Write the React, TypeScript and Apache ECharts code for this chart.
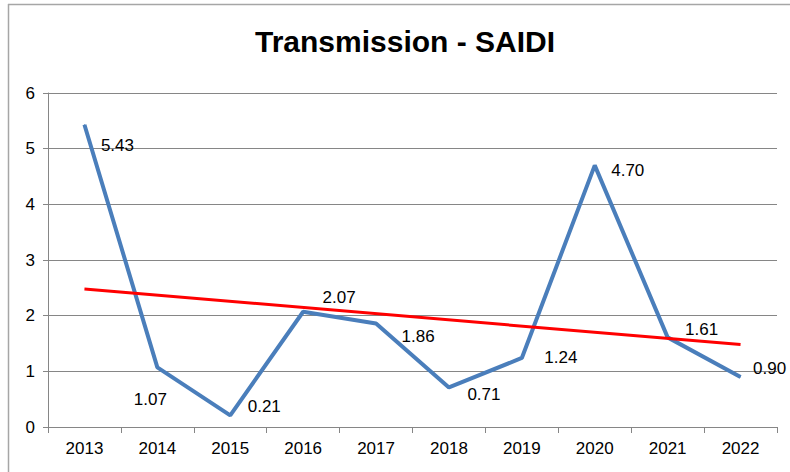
import React, { useEffect, useRef } from "react";
import * as echarts from "echarts";

const years = ["2013", "2014", "2015", "2016", "2017", "2018", "2019", "2020", "2021", "2022"];
const saidi = [5.43, 1.07, 0.21, 2.07, 1.86, 0.71, 1.24, 4.7, 1.61, 0.9];
// linear trendline endpoints (2013, 2022)
const trendYears = ["2013", "2022"];
const trendValues = [2.48, 1.48];
// label offsets (px) relative to each point, layout only
const labelOffsets = [
  [33, 21], [-7, 32], [34, -9], [36, -14], [42, 13],
  [35, 7], [39, 0], [33, 5], [34, -8], [29, -8],
];

const FONT = "'Liberation Sans', Arial, sans-serif";

export default function App() {
  const ref = useRef<HTMLDivElement>(null);
  useEffect(() => {
    if (!ref.current) return;
    const chart = echarts.init(ref.current, undefined, { renderer: "svg" });
    chart.setOption({
      animation: false,
      backgroundColor: "#ffffff",
      textStyle: { fontFamily: FONT },
      title: {
        text: "Transmission - SAIDI",
        left: 250,
        top: 21,
        textStyle: { fontFamily: FONT, fontSize: 30, fontWeight: "bold", color: "#000" },
      },
      graphic: [
        { type: "line", shape: { x1: 8.5, y1: 4, x2: 8.5, y2: 472 }, style: { stroke: "#a6a6a6", lineWidth: 1.5 } },
        { type: "line", shape: { x1: 8, y1: 4.5, x2: 790, y2: 4.5 }, style: { stroke: "#a6a6a6", lineWidth: 1.5 } },
      ],
      grid: { left: 48, right: 13, top: 93, bottom: 45, containLabel: false },
      xAxis: {
        type: "category",
        data: years,
        boundaryGap: true,
        axisLine: { lineStyle: { color: "#868686", width: 1 } },
        axisTick: { show: true, length: 6, alignWithLabel: false, lineStyle: { color: "#868686" } },
        axisLabel: { fontFamily: FONT, fontSize: 17, color: "#000", margin: 13 },
      },
      yAxis: {
        type: "value",
        min: 0,
        max: 6,
        interval: 1,
        axisLine: { show: true, lineStyle: { color: "#868686", width: 1 } },
        axisTick: { show: true, length: 5, lineStyle: { color: "#868686" } },
        axisLabel: { fontFamily: FONT, fontSize: 17, color: "#000", margin: 13 },
        splitLine: { lineStyle: { color: "#868686", width: 1 } },
      },
      series: [
        {
          type: "line",
          data: saidi.map((v, i) => ({
            value: v,
            label: { offset: labelOffsets[i] },
          })),
          symbol: "circle",
          symbolSize: 1,
          showSymbol: true,
          itemStyle: { color: "#4A7EBB" },
          lineStyle: { color: "#4A7EBB", width: 4 },
          label: {
            show: true,
            position: "inside",
            fontFamily: FONT,
            fontSize: 17,
            color: "#000",
            formatter: (p: any) => Number(p.value).toFixed(2),
          },
          z: 2,
        },
        {
          type: "line",
          data: trendYears.map((y, i) => [y, trendValues[i]]),
          symbol: "none",
          lineStyle: { color: "#FF0000", width: 3 },
          z: 3,
        },
      ],
    });
    return () => chart.dispose();
  }, []);
  return (
    <div
      ref={ref}
      style={{ position: "fixed", left: 0, top: 0, width: 790, height: 472 }}
    />
  );
}
